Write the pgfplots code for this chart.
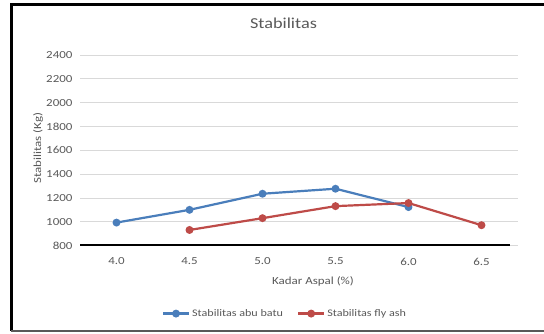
\documentclass[border=0pt]{standalone}
\usepackage{fontspec}
\setmainfont{Carlito}[FakeStretch=1.2]
\usepackage{pgfplots}
\pgfplotsset{compat=1.18}
\definecolor{seriesA}{HTML}{4A7EBB}
\definecolor{seriesB}{HTML}{BE4B48}
\definecolor{txt}{HTML}{595959}
\definecolor{gridc}{HTML}{D9D9D9}
\begin{document}
\begin{tikzpicture}[x=1pt,y=1pt]
% page frame
\fill[white] (0,0) rectangle (544,333);
\draw[black, line width=3pt] (11.5,2) -- (11.5,330);
\draw[black, line width=2.5pt] (10,328.5) -- (544,328.5);
\draw[black!65, line width=1.5pt] (11,2) -- (544,2);
\begin{axis}[
  at={(80pt,87.3pt)}, anchor=south west,
  scale only axis, width=438pt, height=190.7pt,
  xmin=-0.5, xmax=5.5, ymin=800, ymax=2400,
  xtick={0,1,2,3,4,5},
  xticklabels={4.0,4.5,5.0,5.5,6.0,6.5},
  ytick={800,1000,...,2400},
  axis line style={draw=none},
  major tick length=0pt,
  ymajorgrids, grid style={gridc, line width=0.8pt},
  ticklabel style={font=\fontsize{10.8}{12}\selectfont, text=txt},
  yticklabel style={xshift=-4pt},
  xticklabel style={yshift=-8.5pt},
  /pgf/number format/assume math mode=true,
  yticklabel={\pgfmathprintnumber[fixed,1000 sep={}]{\tick}},
  title={Stabilitas},
  title style={at={(axis description cs:0.4646,1.1363)}, anchor=center,
    font=\fontsize{15.2}{18}\selectfont, text=txt},
  xlabel={Kadar Aspal (\%)},
  xlabel style={at={(axis description cs:0.532,-0.185)}, anchor=center,
    font=\fontsize{10.8}{13}\selectfont, text=txt},
  ylabel={Stabilitas (Kg)},
  ylabel style={at={(axis description cs:-0.0959,0.5123)}, anchor=center,
    font=\fontsize{10.8}{13}\selectfont, text=txt},
  legend columns=2,
  legend style={at={(axis description cs:0.468,-0.356)}, anchor=center,
    draw=none, fill=none, font=\fontsize{10.1}{12}\selectfont,
    text=txt, /tikz/every even column/.append style={column sep=12pt}},
  legend image code/.code={\draw[mark repeat=2,mark phase=2,#1]
    plot coordinates {(0pt,0pt) (13pt,0pt) (26pt,0pt)};},
]
% heavy baseline at 800
\draw[black, line width=4.3pt] (axis cs:-0.514,800) -- (axis cs:5.39,800);
\addplot[seriesA, line width=2.2pt, mark=*, mark size=2.8pt]
  coordinates {(0,994) (1,1101) (2,1236) (3,1278) (4,1124)};
\addlegendentry{Stabilitas abu batu}
\addplot[seriesB, line width=2.2pt, mark=*, mark size=2.8pt]
  coordinates {(1,932) (2,1031) (3,1132) (4,1158) (5,972)};
\addlegendentry{Stabilitas fly ash}
\end{axis}
\pgfresetboundingbox
\useasboundingbox (0,0) rectangle (544,333);
\end{tikzpicture}
\end{document}
